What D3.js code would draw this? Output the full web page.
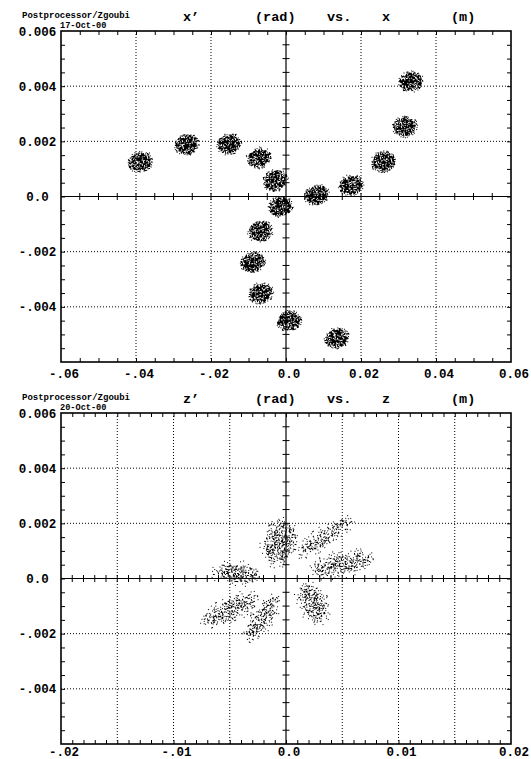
<!DOCTYPE html>
<html><head><meta charset="utf-8">
<script src="https://cdn.jsdelivr.net/npm/d3@7"></script>
<style>body{margin:0;background:#fff}</style>
</head><body>
<svg id="c" width="531" height="759"></svg>
<script>
// ---------- data ----------
// upper plot: x' (rad) vs x (m), beam spot centres
const topX  = [-0.0387,-0.0264,-0.0152,-0.0072,-0.0028,-0.0014,-0.0068,-0.0088,-0.0067,0.0008,0.0136,0.0082,0.0173,0.0259,0.0317,0.0333];
const topXp = [0.00125,0.00188,0.00190,0.00140,0.00058,-0.00036,-0.00127,-0.00239,-0.00351,-0.00452,-0.00514,0.00005,0.00040,0.00127,0.00253,0.00416];
const topSpotHalfX  = 0.00320;   // m
const topSpotHalfXp = 0.00036;   // rad
const topSpotTilt   = 15;        // deg
// lower plot: z' (rad) vs z (m)
const botZ     = [-0.00062,0.00347,0.00489,0.00240,-0.00213,-0.00498,-0.00436];
const botZp    = [0.00130,0.00152,0.00051,-0.00090,-0.00145,-0.00112,0.00018];
const botMajor = [0.00205,0.00285,0.00275,0.00180,0.00240,0.00275,0.00215];
const botMinor = [0.00135,0.00068,0.00092,0.00118,0.00078,0.00085,0.00085];
const botAngle = [75,35,12,-62,55,25,-5];
// axes
const topXTicks = [-0.06,-0.04,-0.02,0,0.02,0.04,0.06];
const topXTickLabels = ["-.06","-.04","-.02","0.0","0.02","0.04","0.06"];
const botXTicks = [-0.02,-0.01,0,0.01,0.02];
const botXTickLabels = ["-.02","-.01","0.0","0.01","0.02"];
const yTicks = [0.006,0.004,0.002,0,-0.002,-0.004];
const yTickLabels = ["0.006","0.004","0.002","0.0","-.002","-.004"];
const topTitle = ["x’","(rad)","vs.","x","(m)"];
const botTitle = ["z’","(rad)","vs.","z","(m)"];
const headerText = "Postprocessor/Zgoubi";
const topDate = "17-Oct-00";
const botDate = "20-Oct-00";

// ---------- drawing ----------
const svg = d3.select("#c");
const FONT = "'Liberation Mono','DejaVu Sans Mono',monospace";
const defs = svg.append("defs");
defs.html(`
<filter id="dense" x="-40%" y="-40%" width="180%" height="180%" color-interpolation-filters="sRGB">
  <feGaussianBlur in="SourceAlpha" stdDeviation="1.5" result="b"/>
  <feComponentTransfer in="b" result="bm"><feFuncA type="discrete" tableValues="0 0 1 1 1 1 1 1 1 1"/></feComponentTransfer>
  <feTurbulence type="fractalNoise" baseFrequency="0.85" numOctaves="2" seed="4" result="n"/>
  <feColorMatrix in="n" type="matrix" values="0 0 0 0 0  0 0 0 0 0  0 0 0 0 0  1 0 0 0 0" result="na"/>
  <feComposite in="b" in2="na" operator="arithmetic" k1="0" k2="0.5" k3="2" k4="-0.84" result="s"/>
  <feComponentTransfer in="s" result="t"><feFuncA type="discrete" tableValues="0 1"/></feComponentTransfer>
  <feComposite in="t" in2="bm" operator="in"/>
</filter>
<filter id="sparse" x="-50%" y="-50%" width="200%" height="200%" color-interpolation-filters="sRGB">
  <feGaussianBlur in="SourceAlpha" stdDeviation="3" result="b"/>
  <feComponentTransfer in="b" result="bm"><feFuncA type="discrete" tableValues="0 1 1 1 1 1 1 1 1 1"/></feComponentTransfer>
  <feTurbulence type="fractalNoise" baseFrequency="0.71" numOctaves="2" seed="7" result="n"/>
  <feColorMatrix in="n" type="matrix" values="0 0 0 0 0  0 0 0 0 0  0 0 0 0 0  1 0 0 0 0" result="na"/>
  <feComposite in="b" in2="na" operator="arithmetic" k1="0" k2="0.55" k3="3" k4="-1.68" result="s"/>
  <feComponentTransfer in="s" result="t"><feFuncA type="discrete" tableValues="0 1"/></feComponentTransfer>
  <feComposite in="t" in2="bm" operator="in"/>
</filter>`);

const L = 61, R = 511;
const titleX = [183, 255, 327, 382, 451];

function stepRange(a, b, step) {
  const n = Math.round((b - a) / step);
  return d3.range(n + 1).map(i => a + i * step);
}

function panel(T, B, xDomain, xMinor, xGrid, xTicks, xLabels, labelDy, title, date, drawMarks) {
  const x = d3.scaleLinear().domain(xDomain).range([L, R]);
  const y = d3.scaleLinear().domain([-0.006, 0.006]).range([B, T]);
  const g = svg.append("g");
  const isZero = v => Math.abs(v) < 1e-12;
  const isEdgeX = v => Math.abs(v - xDomain[0]) < 1e-12 || Math.abs(v - xDomain[1]) < 1e-12;

  const gx = stepRange(xDomain[0], xDomain[1], xGrid).filter(v => !isZero(v) && !isEdgeX(v));
  const gy = stepRange(-0.006, 0.006, 0.002).filter(v => !isZero(v) && Math.abs(Math.abs(v) - 0.006) > 1e-12);
  g.selectAll(".gx").data(gx).join("line")
    .attr("x1", d => x(d)).attr("x2", d => x(d)).attr("y1", T).attr("y2", B)
    .attr("stroke", "#000").attr("stroke-width", 1).attr("stroke-dasharray", "1,2");
  g.selectAll(".gy").data(gy).join("line")
    .attr("y1", d => y(d)).attr("y2", d => y(d)).attr("x1", L).attr("x2", R)
    .attr("stroke", "#000").attr("stroke-width", 1).attr("stroke-dasharray", "1,2");

  drawMarks(g, x, y);

  g.append("line").attr("x1", x(0)).attr("x2", x(0)).attr("y1", T).attr("y2", B).attr("stroke", "#000").attr("stroke-width", 1.2);
  g.append("line").attr("x1", L).attr("x2", R).attr("y1", y(0)).attr("y2", y(0)).attr("stroke", "#000").attr("stroke-width", 1.2);

  const mx = stepRange(xDomain[0], xDomain[1], xMinor).filter(v => !isEdgeX(v));
  const my = stepRange(-0.006, 0.006, 0.0005).filter(v => Math.abs(Math.abs(v) - 0.006) > 1e-12);
  const tk = 3.5;
  g.selectAll(".cx").data(mx.filter(v => !isZero(v))).join("line")
    .attr("x1", d => x(d)).attr("x2", d => x(d)).attr("y1", y(0) - tk).attr("y2", y(0) + tk).attr("stroke", "#000").attr("stroke-width", 1);
  g.selectAll(".cy").data(my.filter(v => !isZero(v))).join("line")
    .attr("y1", d => y(d)).attr("y2", d => y(d)).attr("x1", x(0) - tk).attr("x2", x(0) + tk).attr("stroke", "#000").attr("stroke-width", 1);
  g.append("g").attr("transform", `translate(0,${T})`).call(d3.axisTop(x).tickValues(mx).tickSize(-4).tickFormat("")).call(a => a.select(".domain").remove());
  g.append("g").attr("transform", `translate(0,${B})`).call(d3.axisBottom(x).tickValues(mx).tickSize(-4).tickFormat("")).call(a => a.select(".domain").remove());
  g.append("g").attr("transform", `translate(${L},0)`).call(d3.axisLeft(y).tickValues(my).tickSize(-4).tickFormat("")).call(a => a.select(".domain").remove());
  g.append("g").attr("transform", `translate(${R},0)`).call(d3.axisRight(y).tickValues(my).tickSize(-4).tickFormat("")).call(a => a.select(".domain").remove());
  g.selectAll(".tick line").attr("stroke", "#000").attr("stroke-width", 1);

  g.append("rect").attr("x", L).attr("y", T).attr("width", R - L).attr("height", B - T)
    .attr("fill", "none").attr("stroke", "#000").attr("stroke-width", 1.6);

  g.selectAll(".xl").data(xTicks).join("text")
    .attr("x", d => x(d) + 3).attr("y", B + labelDy).attr("text-anchor", "middle")
    .attr("font-family", FONT).attr("font-weight", "bold").attr("font-size", 12.5)
    .text((d, i) => xLabels[i]);
  g.selectAll(".yl").data(yTicks).join("text")
    .attr("x", 37.5).attr("y", d => y(d)).attr("dy", "0.36em").attr("text-anchor", "middle")
    .attr("font-family", FONT).attr("font-weight", "bold").attr("font-size", 12.5)
    .text((d, i) => yTickLabels[i]);

  g.append("text").attr("x", 22).attr("y", T - 13.5).text(headerText)
    .attr("font-family", FONT).attr("font-weight", "bold").attr("font-size", 9);
  g.append("text").attr("x", 60).attr("y", T - 3.5).text(date)
    .attr("font-family", FONT).attr("font-weight", "bold").attr("font-size", 8.6);
  g.selectAll(".tt").data(title).join("text")
    .attr("x", (d, i) => titleX[i]).attr("y", T - 10)
    .attr("font-family", FONT).attr("font-weight", "bold").attr("font-size", 13.5)
    .text(d => d);
}

panel(31, 362, [-0.06, 0.06], 0.005, 0.02, topXTicks, topXTickLabels, 16, topTitle, topDate, (g, x, y) => {
  const rx = x(topSpotHalfX) - x(0), ry = y(0) - y(topSpotHalfXp);
  g.selectAll(".spot").data(topX).join("ellipse")
    .attr("cx", d => x(d)).attr("cy", (d, i) => y(topXp[i]))
    .attr("rx", rx).attr("ry", ry)
    .attr("transform", (d, i) => `rotate(${-topSpotTilt},${x(d)},${y(topXp[i])})`)
    .attr("fill", "#000").attr("filter", "url(#dense)");
});

panel(413, 744, [-0.02, 0.02], 0.001, 0.005, botXTicks, botXTickLabels, 12, botTitle, botDate, (g, x, y) => {
  g.selectAll(".spot").data(botZ).join("ellipse")
    .attr("cx", d => x(d)).attr("cy", (d, i) => y(botZp[i]))
    .attr("rx", (d, i) => x(botMajor[i]) - x(0)).attr("ry", (d, i) => x(botMinor[i]) - x(0))
    .attr("transform", (d, i) => `rotate(${-botAngle[i]},${x(d)},${y(botZp[i])})`)
    .attr("fill", "#000").attr("filter", "url(#sparse)");
});
</script>
</body></html>
